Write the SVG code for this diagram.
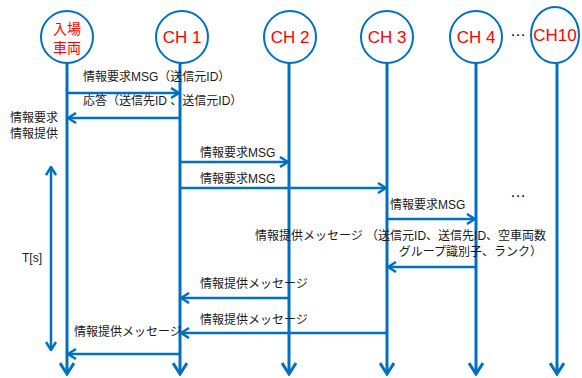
<svg xmlns="http://www.w3.org/2000/svg" width="582" height="378" viewBox="0 0 582 378">
<style>
.node{fill:#fff;stroke:#0070C0;stroke-width:2}
.nl{font-family:"Liberation Sans","Noto Sans CJK JP",sans-serif;font-size:17px;fill:#FF0000;text-anchor:middle}
.nlj{font-family:"Noto Sans CJK JP",sans-serif;font-size:14px;fill:#FF0000;text-anchor:middle}
.life{stroke:#0070C0;stroke-width:3;fill:none;marker-end:url(#big)}
.msg{stroke:#0070C0;stroke-width:2.5;fill:none;marker-end:url(#ah)}
.t{font-family:"Liberation Sans","Noto Sans CJK JP",sans-serif;font-size:12px;fill:#1a1a1a}
</style>
<defs>
<marker id="ah" viewBox="0 0 10 12" refX="9" refY="6" markerWidth="10" markerHeight="12" markerUnits="userSpaceOnUse" orient="auto-start-reverse">
<path d="M1,1 L9,6 L1,11" fill="none" stroke="#0070C0" stroke-width="2.5"/>
</marker>
<marker id="big" viewBox="0 0 14 16" refX="12" refY="8" markerWidth="14" markerHeight="16" markerUnits="userSpaceOnUse" orient="auto">
<path d="M1,1 L12,8 L1,15" fill="none" stroke="#0070C0" stroke-width="3"/>
</marker>
</defs>
<g id="node-car">
<circle class="node" cx="67" cy="37" r="26"/>
<text class="nlj" x="67" y="34">入場</text>
<text class="nlj" x="67" y="53">車両</text>
</g>
<g id="node-ch1">
<circle class="node" cx="182" cy="37" r="26"/>
<text class="nl" x="182" y="43">CH 1</text>
</g>
<g id="node-ch2">
<circle class="node" cx="290" cy="37" r="26"/>
<text class="nl" x="290" y="43">CH 2</text>
</g>
<g id="node-ch3">
<circle class="node" cx="387" cy="37" r="26"/>
<text class="nl" x="387" y="43">CH 3</text>
</g>
<g id="node-ch4">
<circle class="node" cx="476" cy="37" r="26"/>
<text class="nl" x="476" y="43">CH 4</text>
</g>
<g id="node-ch10">
<ellipse class="node" cx="555" cy="35" rx="24" ry="28"/>
<text class="nl" x="555" y="41">CH10</text>
</g>
<text x="518" y="36" font-family="Liberation Sans,sans-serif" font-size="16" fill="#000" text-anchor="middle">…</text>
<g id="connectors">
<line class="life" x1="67" y1="63" x2="67" y2="374"/>
<line class="life" x1="180" y1="63" x2="180" y2="374"/>
<line class="life" x1="289" y1="63" x2="289" y2="374"/>
<line class="life" x1="387" y1="63" x2="387" y2="374"/>
<line class="life" x1="476" y1="63" x2="476" y2="374"/>
<line class="life" x1="557" y1="63" x2="557" y2="374"/>
<line class="msg" x1="67" y1="93" x2="179" y2="93"/>
<line class="msg" x1="180" y1="118" x2="68" y2="118"/>
<line class="msg" x1="180" y1="162" x2="288" y2="162"/>
<line class="msg" x1="180" y1="188" x2="386" y2="188"/>
<line class="msg" x1="387" y1="219" x2="475" y2="219"/>
<line class="msg" x1="476" y1="267" x2="388" y2="267"/>
<line class="msg" x1="289" y1="298" x2="181" y2="298"/>
<line class="msg" x1="387" y1="333" x2="181" y2="333"/>
<line class="msg" x1="180" y1="354" x2="68" y2="354"/>
<line class="msg" x1="51" y1="167" x2="51" y2="350" style="marker-start:url(#ah)"/>
</g>
<text class="t" x="83" y="81">情報要求MSG（送信元ID）</text>
<text class="t" x="83" y="105">応答（送信先ID 、送信元ID）</text>
<text class="t" x="10" y="122">情報要求</text>
<text class="t" x="10" y="138">情報提供</text>
<text class="t" x="200" y="157">情報要求MSG</text>
<text class="t" x="200" y="183">情報要求MSG</text>
<text class="t" x="390" y="209">情報要求MSG</text>
<text x="518" y="197" font-family="Liberation Sans,sans-serif" font-size="16" fill="#000" text-anchor="middle">…</text>
<text class="t" x="255" y="240">情報提供メッセージ （送信元ID、送信先ID、空車両数</text>
<text class="t" x="542" y="256" text-anchor="end">グループ識別子、ランク）</text>
<text class="t" x="22" y="262">T[s]</text>
<text class="t" x="200" y="288">情報提供メッセージ</text>
<text class="t" x="200" y="324">情報提供メッセージ</text>
<text class="t" x="74" y="336">情報提供メッセージ</text>
</svg>
